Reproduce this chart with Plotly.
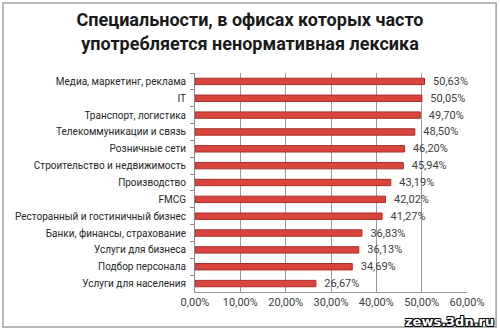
import plotly.graph_objects as go

categories = [
    "Медиа, маркетинг, реклама",
    "IT",
    "Транспорт, логистика",
    "Телекоммуникации и связь",
    "Розничные сети",
    "Строительство и недвижимость",
    "Производство",
    "FMCG",
    "Ресторанный и гостиничный бизнес",
    "Банки, финансы, страхование",
    "Услуги для бизнеса",
    "Подбор персонала",
    "Услуги для населения",
]
shares = [0.5063, 0.5005, 0.4970, 0.4850, 0.4620, 0.4594, 0.4319,
          0.4202, 0.4127, 0.3683, 0.3613, 0.3469, 0.2667]
x_ticks = [0, 0.1, 0.2, 0.3, 0.4, 0.5, 0.6]

FONT = "Roboto"

fig = go.Figure(
    go.Bar(
        y=categories,
        x=shares,
        orientation="h",
        marker=dict(color="#D9443C", line=dict(color="#A8302A", width=1)),
        texttemplate="  %{x:.2%}",
        textposition="outside",
        constraintext="none",
        textfont=dict(family=FONT, size=11, color="#404040"),
        cliponaxis=False,
    )
)

fig.update_layout(
    width=500,
    height=331,
    paper_bgcolor="white",
    plot_bgcolor="white",
    separators=", ",
    margin=dict(l=195, r=33, t=73, b=39),
    bargap=0.62,
    showlegend=False,
    title=dict(
        text="<b>Специальности, в офисах которых часто<br>употребляется ненормативная лексика</b>",
        x=0.5,
        xanchor="center",
        xref="container",
        yref="container",
        y=0.92,
        yanchor="top",
        font=dict(family=FONT, size=18, color="#1a1a1a"),
    ),
    xaxis=dict(
        range=[0, 0.6],
        tickvals=x_ticks,
        tickformat=".2%",
        showgrid=True,
        gridcolor="#9a9a9a",
        gridwidth=1,
        zeroline=False,
        showline=True,
        linecolor="#9a9a9a",
        ticks="",
        tickfont=dict(family=FONT, size=11, color="#404040"),
    ),
    yaxis=dict(
        autorange="reversed",
        showline=True,
        linecolor="#8a8a8a",
        ticks="outside",
        ticklen=4,
        tickcolor="#8a8a8a",
        tickson="boundaries",
        ticklabelstandoff=6,
        tickfont=dict(family=FONT, size=10, color="#262626"),
    ),
    shapes=[
        dict(
            type="rect", xref="paper", yref="paper",
            x0=-0.706, x1=1.107, y0=-0.16, y1=1.32,
            line=dict(color="#a0a0a0", width=1.5),
        )
    ],
    annotations=[
        dict(
            text="<b>zews.3dn.ru</b>",
            xref="paper", yref="paper",
            x=1.107, y=-0.178,
            xanchor="right", yanchor="bottom",
            showarrow=False,
            font=dict(family="DejaVu Sans", size=13, color="white",
                      shadow="1px 1px 0 #000, -1px -1px 0 #000, 1px -1px 0 #000, -1px 1px 0 #000"),
        )
    ],
)

fig.write_html("out.html")
